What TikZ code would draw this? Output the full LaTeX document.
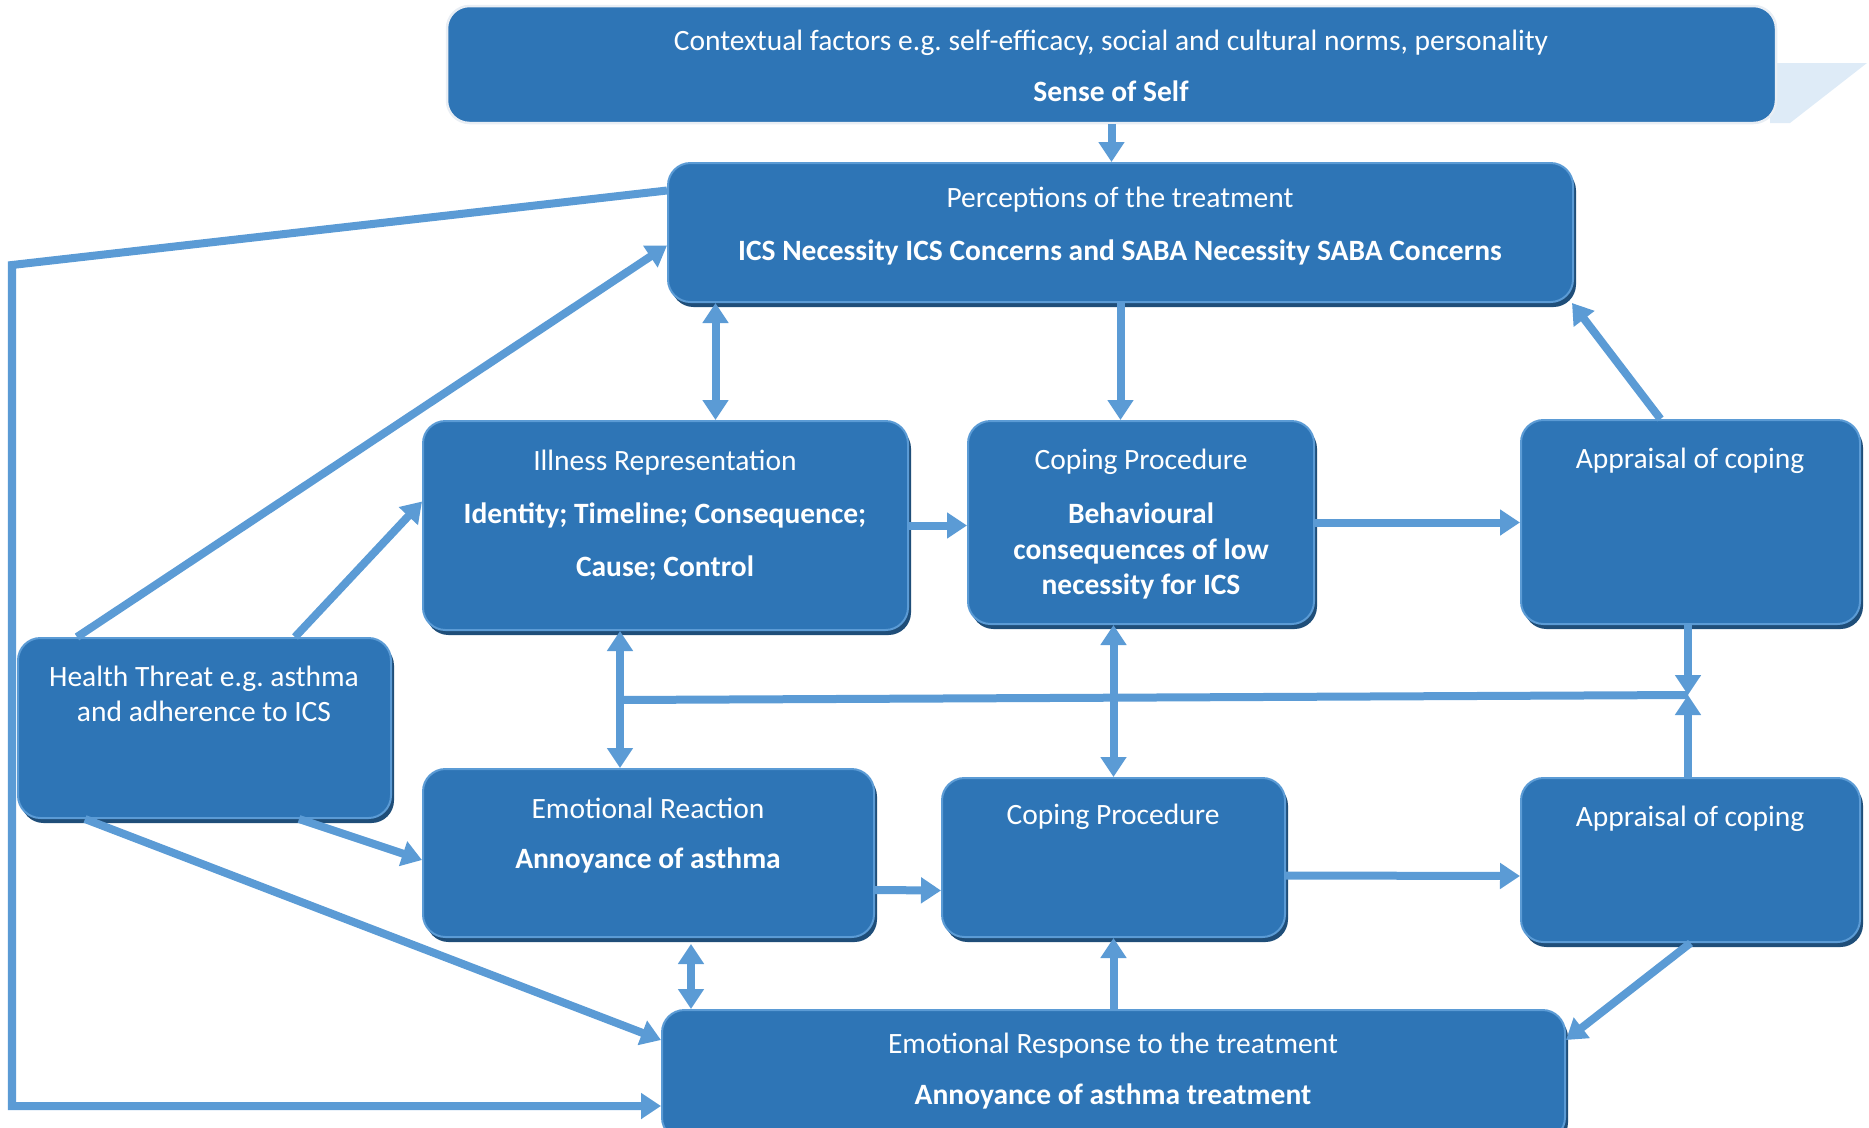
\documentclass[tikz,border=0pt]{standalone}
\usepackage{fontspec}
\setmainfont{Carlito}
\usetikzlibrary{arrows.meta,fit,shadows}

\definecolor{boxfill}{HTML}{2E75B6}
\definecolor{boxline}{HTML}{5B9BD5}
\definecolor{boxshade}{HTML}{1F4E79}
\definecolor{linkblue}{HTML}{5B9BD5}
\definecolor{wedgeblue}{HTML}{DEEBF7}
\definecolor{ctxline}{HTML}{E9EEF4}

\begin{document}
\frenchspacing
\begin{tikzpicture}[
            x=0.4pt,y=-0.4pt,
            box/.style={draw=boxline,line width=0.8pt,fill=boxfill,rounded corners=9pt,inner sep=0pt,
              drop shadow={shadow xshift=1.2pt,shadow yshift=-2pt,fill=boxshade,opacity=1}},
            topbox/.style={draw=ctxline,line width=1pt,fill=boxfill,rounded corners=9pt,inner sep=0pt},
            lbl/.style={text=white,font=\fontsize{11.8}{14.2}\selectfont,align=center,inner sep=0pt},
            lblb/.style={lbl,font=\fontsize{11.8}{14.2}\selectfont\bfseries},
            link/.style={draw=linkblue,line width=3.2pt,-{Triangle[width=10pt,length=8pt]}},
            dlink/.style={link,{Triangle[width=10pt,length=8pt]}-{Triangle[width=10pt,length=8pt]}}
          ]
          \useasboundingbox (0,0) rectangle (1869,1128);

          %context
          \fill[wedgeblue] (1770,63) -- (1867,63) -- (1790,123) -- (1770,123) -- cycle;
          \node[topbox,fit={(447,6) (1776,123)}] (ctx) {};

          %boxes
          \node[box,fit={(668,163) (1573,302)}] (perc) {};
          \node[box,fit={(423,421) (908,630)}] (ill) {};
          \node[box,fit={(968,421) (1314,624)}] (cop1) {};
          \node[box,fit={(1521,420) (1860,624)}] (app1) {};
          \node[box,fit={(18,638) (391,818)}] (health) {};
          \node[box,fit={(423,769) (874,937)}] (emre) {};
          \node[box,fit={(942,778) (1285,937)}] (cop2) {};
          \node[box,fit={(1521,778) (1860,942)}] (app2) {};
          \node[box,fit={(662,1010) (1565,1140)}] (resp) {};

          %labels
          \node[lbl] (ctxa) at (1111,43) {Contextual factors e.g. self-efficacy, social and cultural norms, personality};
          \node[lblb] (ctxb) at (1111,91) {Sense of Self};
          \node[lbl] (perca) at (1120,200) {Perceptions of the treatment};
          \node[lblb] (percb) at (1120,252) {ICS Necessity ICS Concerns and SABA Necessity SABA Concerns};
          \node[lbl] (illa) at (665,463) {Illness Representation};
          \node[lblb] (illb) at (665,515) {Identity; Timeline; Consequence;};
          \node[lblb] (illc) at (665,568) {Cause; Control};
          \node[lbl] (cop1a) at (1141,462) {Coping Procedure};
          \node[lblb] (cop1b) at (1141,551) {Behavioural\\consequences of low\\necessity for ICS};
          \node[lbl] (app1a) at (1690,461) {Appraisal of coping};
          \node[lbl] (healtha) at (204,694) {Health Threat e.g. asthma\\and adherence to ICS};
          \node[lbl] (emrea) at (648,808) {Emotional Reaction};
          \node[lblb] (emreb) at (648,860) {Annoyance of asthma};
          \node[lbl] (cop2a) at (1113,817) {Coping Procedure};
          \node[lbl] (app2a) at (1690,819) {Appraisal of coping};
          \node[lbl] (respa) at (1113,1046) {Emotional Response to the treatment};
          \node[lblb] (respb) at (1113,1096) {Annoyance of asthma treatment};

          %junctions
          \coordinate (v1) at (620,700);
          \coordinate (jn) at (1688,695);
          \coordinate (v2) at (691,944);
          \coordinate (lp1) at (12,265);
          \coordinate (lp2) at (12,1106);

          %links
          \draw[link] (ctx.south) -- (ctx.south |- perc.north);
          \draw[link,line join=miter] ([shift={(0,-42)}]perc.west) -- (lp1) -- (lp2) -- (lp2 -| resp.west);
          \draw[link] ([shift={(60,0)}]health.north west) -- ([shift={(0,13)}]perc.west);
          \draw[link] ([shift={(278,0)}]health.north west) -- ([shift={(0,-24)}]ill.west);
          \draw[dlink] ([shift={(50,0)}]ill.north) -- ([shift={(-405,0)}]perc.south);
          \draw[link] (perc.south) -- (perc.south |- cop1.north);
          \draw[link] (ill.east) -- (ill.east -| cop1.west);
          \draw[link] (cop1.east) -- (cop1.east -| app1.west);
          \draw[link] ([shift={(-30,0)}]app1.north) -- ([shift={(-2,0)}]perc.south east);
          \draw[dlink] (v1 |- ill.south) -- (v1 |- emre.north);
          \draw[draw=linkblue,line width=3.2pt] (v1) -- (jn);
          \draw[dlink] (cop2.north |- cop1.south) -- (cop2.north);
          \draw[link] (jn |- app1.south) -- (jn);
          \draw[link] (jn |- app2.north) -- (jn);
          \draw[link] ([shift={(-93,0)}]health.south east) -- ([shift={(0,7)}]emre.west);
          \draw[link] ([shift={(68,0)}]health.south west) -- ([shift={(0,-35)}]resp.west);
          \draw[link] ([shift={(0,37)}]emre.east) -- ([shift={(0,33)}]cop2.west);
          \draw[link] ([shift={(0,18)}]cop2.east) -- ([shift={(0,16)}]app2.west);
          \draw[dlink] (v2) -- (v2 |- resp.north);
          \draw[link] (resp.north) -- (resp.north |- cop2.south);
          \draw[link] (app2.south) -- ([shift={(0,-35)}]resp.east);
      \end{tikzpicture}
\end{document}
